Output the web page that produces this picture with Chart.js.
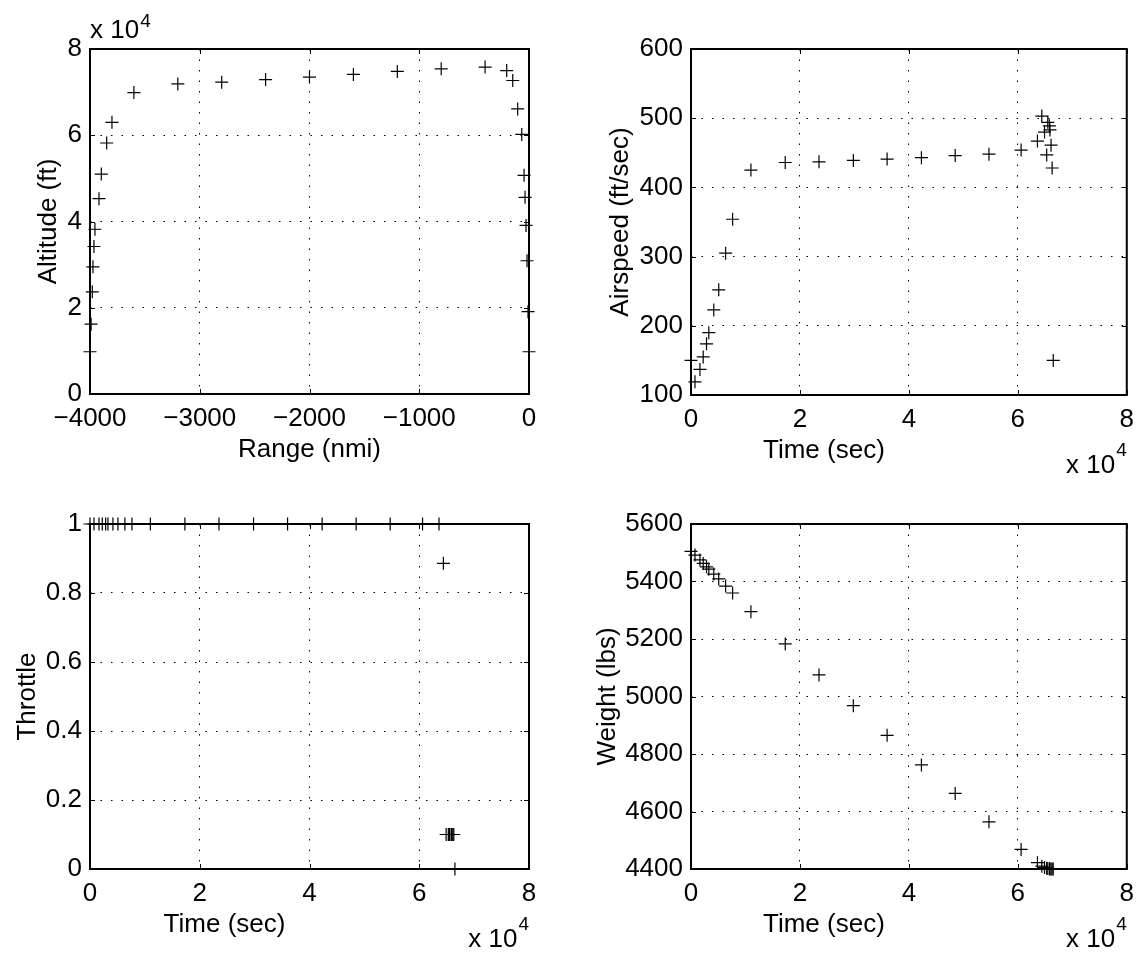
<!DOCTYPE html>
<html>
<head>
<meta charset="utf-8">
<script src="https://cdn.jsdelivr.net/npm/chart.js@4"></script>
<style>
  body { margin: 0; background: #fff; }
  #wrap { position: relative; width: 1143px; height: 953px; }
  canvas { position: absolute; }
</style>
</head>
<body>
<div id="wrap">
  <canvas id="alt" width="571" height="476" style="left:0;top:0"></canvas>
  <canvas id="spd" width="572" height="476" style="left:571px;top:0"></canvas>
  <canvas id="thr" width="571" height="477" style="left:0;top:476px"></canvas>
  <canvas id="wgt" width="572" height="477" style="left:571px;top:476px"></canvas>
</div>
<script>
// flight profile samples, one entry per trajectory point
const timeSec = [0, 730, 1640, 2240, 2850, 3270, 4180, 5090, 6360, 7640,
  11000, 17300, 23500, 29800, 36000, 42300, 48500, 54700, 60600,
  63600, 64400, 64900, 65300, 65500, 65800, 65900, 66100, 66300, 66500];
const rangeNmi = [-4000, -3990, -3979, -3973, -3964, -3955, -3918, -3897, -3848, -3800,
  -3600, -3200, -2800, -2400, -2000, -1600, -1200, -800, -400,
  -203, -148, -103, -66, -45, -36, -27, -18, -9, 0];
const altitudeFt = [9800, 16200, 23700, 29500, 34200, 38200, 45300, 51000, 58200, 63000,
  69900, 71900, 72300, 72900, 73500, 74100, 74800, 75400, 75800,
  75000, 72700, 66100, 60200, 50700, 45600, 39100, 30900, 19100, 9800];
const airspeedFps = [150, 119, 137, 155, 174, 190, 223, 252, 305, 354,
  425, 436, 437, 439, 441, 443, 446, 448, 454,
  467, 503, 480, 447, 494, 489, 483, 461, 428, 150];
const throttle = [1, 1, 1, 1, 1, 1, 1, 1, 1, 1,
  1, 1, 1, 1, 1, 1, 1, 1, 1,
  1, 0.886, 0.1, 0.1, 0.1, 0.1, 0.1, 0.1, 0.1, 0];
const weightLbs = [5505, 5492, 5475, 5463, 5451, 5443, 5426, 5409, 5384, 5360,
  5295, 5183, 5075, 4968, 4865, 4762, 4663, 4564, 4468,
  4422, 4410, 4405, 4403, 4402, 4401, 4400, 4400, 4400, 4400];

// axis limits: [min, max, step]
const rangeAxis = [-4000, 0, 1000];
const timeAxis = [0, 80000, 20000];
const altitudeAxis = [0, 80000, 20000];
const airspeedAxis = [100, 600, 100];
const throttleAxis = [0, 1, 0.2];
const weightAxis = [4400, 5600, 200];

const FONT = "'Liberation Sans', Arial, Helvetica, sans-serif";
Chart.defaults.font.family = FONT;
Chart.defaults.font.size = 26;
Chart.defaults.color = "#000";

const minus = (v) => (v < 0 ? "\u2212" + Math.abs(v) : String(v));
const per1e4 = (v) => String(Math.round(v / 1e4));
const oneDec = (v) => String(Math.round(v * 10) / 10);

// matlab-ish box: frame, inward ticks, x label, exponent
const matlabBox = {
  id: "matlabBox",
  afterDraw(chart, args, opts) {
    const { ctx, chartArea: a, scales } = chart;
    ctx.save();
    ctx.strokeStyle = "#000";
    ctx.lineWidth = 1;
    ctx.beginPath();
    for (const t of scales.x.ticks) {
      const px = Math.round(scales.x.getPixelForValue(t.value)) + 0.5;
      ctx.moveTo(px, a.bottom); ctx.lineTo(px, a.bottom - 5);
      ctx.moveTo(px, a.top); ctx.lineTo(px, a.top + 5);
    }
    for (const t of scales.y.ticks) {
      const py = Math.round(scales.y.getPixelForValue(t.value)) + 0.5;
      ctx.moveTo(a.left, py); ctx.lineTo(a.left + 5, py);
      ctx.moveTo(a.right, py); ctx.lineTo(a.right - 5, py);
    }
    ctx.stroke();
    ctx.lineWidth = 2;
    ctx.strokeRect(a.left, a.top, a.right - a.left, a.bottom - a.top);

    ctx.fillStyle = "#000";
    ctx.font = "26px " + FONT;
    ctx.textAlign = "center";
    ctx.textBaseline = "middle";
    ctx.fillText(opts.xLabel, (a.left + a.right) / 2 + opts.xShift, a.bottom + opts.xGap);

    ctx.textBaseline = "alphabetic";
    if (opts.expo === "top") {
      ctx.textAlign = "left";
      ctx.font = "26px " + FONT;
      ctx.fillText("x 10", a.left, a.top - 11);
      const w = ctx.measureText("x 10").width;
      ctx.font = "19px " + FONT;
      ctx.fillText("4", a.left + w + 1, a.top - 22);
    } else if (opts.expo === "bottom") {
      ctx.textAlign = "right";
      ctx.font = "19px " + FONT;
      ctx.fillText("4", a.right, a.bottom + 61);
      const w4 = ctx.measureText("4").width;
      ctx.font = "26px " + FONT;
      ctx.fillText("x 10", a.right - w4 - 1, a.bottom + 78);
    }
    ctx.restore();
  },
};

function axis(lim, fmt, extra) {
  return Object.assign({
    type: "linear",
    min: lim[0],
    max: lim[1],
    ticks: { stepSize: lim[2], callback: fmt, autoSkip: false, maxRotation: 0, color: "#000" },
    grid: { color: "#000", lineWidth: 1, drawTicks: false, tickLength: 0 },
    border: { display: false, dash: [1.5, 9] },
  }, extra);
}

function panel(id, xs, ys, p) {
  const pts = xs.map((x, i) => ({ x, y: ys[i] }));
  const xAx = axis(p.xLim, p.xFmt, { position: "bottom", afterFit: (s) => { s.height = p.xHeight; } });
  xAx.ticks.padding = 9;
  const yAx = axis(p.yLim, p.yFmt, {
    position: "left",
    afterFit: (s) => { s.width = p.yWidth; },
    title: { display: true, text: p.yTitle, padding: { top: p.yTitlePad, bottom: 0 } },
  });
  yAx.ticks.padding = 8;

  new Chart(document.getElementById(id), {
    type: "scatter",
    data: {
      datasets: [{
        data: pts,
        pointStyle: "cross",
        radius: 6.5,
        hoverRadius: 6.5,
        borderColor: "#000",
        borderWidth: 1.2,
        clip: false,
      }],
    },
    options: {
      responsive: false,
      animation: false,
      devicePixelRatio: 1,
      layout: { padding: { top: p.top, right: p.right, left: 0, bottom: 0 } },
      scales: { x: xAx, y: yAx },
      plugins: {
        legend: { display: false },
        tooltip: { enabled: false },
        matlabBox: { xLabel: p.xLabel, xShift: p.xShift, xGap: 56, expo: p.expo },
      },
    },
    plugins: [matlabBox],
  });
}

panel("alt", rangeNmi, altitudeFt, {
  xLim: rangeAxis, xFmt: minus, yLim: altitudeAxis, yFmt: per1e4,
  top: 49, right: 42, yWidth: 90, xHeight: 82,
  yTitle: "Altitude (ft)", yTitlePad: 33, xLabel: "Range (nmi)", xShift: 0, expo: "top",
});
panel("spd", timeSec, airspeedFps, {
  xLim: timeAxis, xFmt: per1e4, yLim: airspeedAxis, yFmt: (v) => String(v),
  top: 49, right: 12, yWidth: 120, xHeight: 81,
  yTitle: "Airspeed (ft/sec)", yTitlePad: 34, xLabel: "Time (sec)", xShift: -85, expo: "bottom",
});
panel("thr", timeSec, throttle, {
  xLim: timeAxis, xFmt: per1e4, yLim: throttleAxis, yFmt: oneDec,
  top: 48, right: 42, yWidth: 90, xHeight: 84,
  yTitle: "Throttle", yTitlePad: 12, xLabel: "Time (sec)", xShift: -85, expo: "bottom",
});
panel("wgt", timeSec, weightLbs, {
  xLim: timeAxis, xFmt: per1e4, yLim: weightAxis, yFmt: (v) => String(v),
  top: 48, right: 12, yWidth: 120, xHeight: 84,
  yTitle: "Weight (lbs)", yTitlePad: 21, xLabel: "Time (sec)", xShift: -85, expo: "bottom",
});
</script>
</body>
</html>
